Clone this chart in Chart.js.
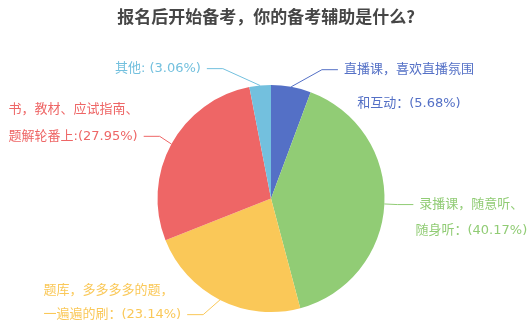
<!DOCTYPE html>
<html>
<head>
<meta charset="utf-8">
<script src="https://cdn.jsdelivr.net/npm/chart.js@4.4.0/dist/chart.umd.min.js"></script>
<style>
  html, body { margin: 0; padding: 0; background: #fff; }
  #wrap { width: 527px; height: 324px; }
</style>
</head>
<body>
<div id="wrap"><canvas id="pie-chart" width="527" height="324"></canvas></div>
<script>
/**
 * 报名后开始备考 pie
 */

let titleText = '报名后开始备考，你的备考辅助是什么?';
let categories = [
    '直播课，喜欢直播氛围\n和互动',
    '录播课，随意听、\n随身听',
    '题库，多多多多的题，\n一遍遍的刷',
    '书，教材、应试指南、\n题解轮番上',
    '其他'
];
let separators = ['：', '：', '：', ':', ': '];
let values = [5.68, 40.17, 23.14, 27.95, 3.06];
let colors = ['#5470c6', '#91cc75', '#fac858', '#ee6666', '#73c0de'];

// leader line tuning (per slice): first segment length, vertical nudge, line gap of text
let lineLen1 = [25, 13, 21, 14, 25];
let labelShift = [7.5, 0, -4, -1, 8];
let lineGap = [34, 26, 24, 27, 0];
let LINE_LEN2 = 16;
let TEXT_GAP = 6;
let LABEL_FONT = '13px "DejaVu Sans", "Noto Sans CJK SC", sans-serif';

const outerLabels = {
    id: 'outerLabels',
    afterDraw(chart) {
        const ctx = chart.ctx;
        ctx.save();
        // title
        ctx.font = 'bold 17px "Noto Sans CJK SC", sans-serif';
        ctx.fillStyle = '#464646';
        ctx.textAlign = 'center';
        ctx.textBaseline = 'middle';
        ctx.fillText(titleText, 266, 17);

        const meta = chart.getDatasetMeta(0);
        ctx.font = LABEL_FONT;
        ctx.textBaseline = 'middle';
        meta.data.forEach((arc, i) => {
            const p = arc.getProps(['x', 'y', 'startAngle', 'endAngle', 'outerRadius'], true);
            const mid = (p.startAngle + p.endAngle) / 2;
            const cos = Math.cos(mid), sin = Math.sin(mid);
            const right = cos >= 0;
            const x1 = p.x + p.outerRadius * cos;
            const y1 = p.y + p.outerRadius * sin;
            const r2 = p.outerRadius + lineLen1[i];
            const y2 = p.y + r2 * sin + labelShift[i];
            const dy = y2 - p.y;
            const x2 = p.x + (right ? 1 : -1) * Math.sqrt(Math.max(r2 * r2 - dy * dy, 0));
            const x3 = x2 + (right ? LINE_LEN2 : -LINE_LEN2);

            ctx.strokeStyle = colors[i];
            ctx.lineWidth = 1;
            ctx.beginPath();
            ctx.moveTo(x1, y1);
            ctx.lineTo(x2, y2);
            ctx.lineTo(x3, y2);
            ctx.stroke();

            const lines = (categories[i] + separators[i] + '(' + values[i].toFixed(2) + '%)').split('\n');
            ctx.fillStyle = colors[i];
            if (right) {
                const tx = x3 + TEXT_GAP;
                const w0 = ctx.measureText(lines[0]).width;
                const cx = tx + w0 / 2;
                lines.forEach((ln, k) => {
                    if (k === 0) {
                        ctx.textAlign = 'left';
                        ctx.fillText(ln, tx, y2);
                    } else {
                        ctx.textAlign = 'center';
                        ctx.fillText(ln, cx, y2 + k * lineGap[i]);
                    }
                });
            } else {
                const tx = x3 - TEXT_GAP;
                const last = lines[lines.length - 1];
                const left = tx - ctx.measureText(last).width;
                ctx.textAlign = 'left';
                lines.forEach((ln, k) => {
                    const back = lines.length - 1 - k;
                    ctx.fillText(ln, left, y2 - back * lineGap[i]);
                });
            }
        });
        ctx.restore();
    }
};

let pieChart = new Chart(document.getElementById('pie-chart').getContext('2d'), {
    type: 'pie',
    data: {
        labels: categories,
        datasets: [{
            data: values,
            backgroundColor: colors,
            borderWidth: 0,
            hoverOffset: 0,
            offset: 0
        }]
    },
    options: {
        responsive: false,
        animation: false,
        devicePixelRatio: 1,
        layout: {
            padding: { top: 85, bottom: 12, left: 157, right: 142 }
        },
        plugins: {
            title: { display: false },
            legend: { display: false },
            tooltip: { enabled: false }
        }
    },
    plugins: [outerLabels]
});
</script>
</body>
</html>
